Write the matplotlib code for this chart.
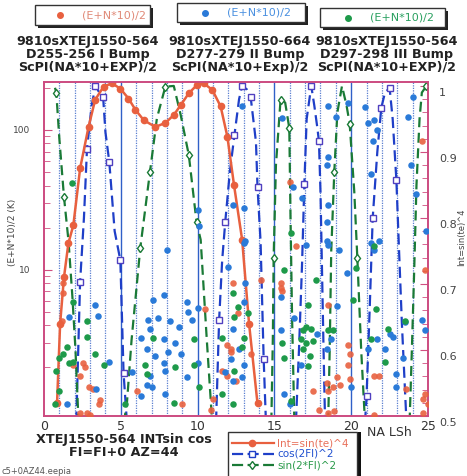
import numpy as np
import matplotlib.pyplot as plt
from matplotlib.patches import Rectangle
from matplotlib.lines import Line2D
from matplotlib.transforms import ScaledTranslation

W, H = 467, 476
nan = np.nan

# Int=sin(te)^4 curve (right axis)
int_x = [0.85, 1.05, 1.3, 1.59, 1.91, 2.35, 2.9, 3.33, 3.88, 4.42, 4.97, 5.5, 5.95, 6.5,
         7.25, 7.9, 8.45, 8.9, 9.43, 9.98, 10.4, 10.96, 11.5, 11.94, 12.37, 12.9, 13.35, 13.9]
int_y = [0.52, 0.64, 0.71, 0.762, 0.789, 0.875, 0.938, 0.979, 0.999, 1.004, 0.996, 0.981, 0.964, 0.948,
         0.938, 0.944, 0.956, 0.971, 0.989, 1.002, 1.004, 0.994, 0.969, 0.923, 0.85, 0.767, 0.64, 0.519]

# cos(2FI)^2 curve (right axis), gaps where it drops below 0.5
cos_x = [2.1, 2.35, 2.6, 2.8, 3.1, 3.35, 3.6, 3.85, 4.0, 4.25, 4.6, 4.97, 5.18, 5.4, nan,
         11.2, 11.4, 11.6, 11.8, 12.1, 12.4, 12.7, 12.9, 13.2, 13.45, 13.8, 13.9, 14.1, 14.3, 14.45, nan,
         16.4, 16.6, 16.8, 16.95, 17.1, 17.4, 17.6, 17.8, 17.9, 18.0, 18.1, 18.2, 18.3, nan,
         20.9, 21.0, 21.2, 21.4, 21.7, 21.96, 22.2, 22.5, 22.7, 22.94, 23.1, 23.3, 23.6]
cos_y = [0.49, 0.703, 0.8, 0.905, 0.97, 1.0, 0.99, 0.983, 0.93, 0.885, 0.78, 0.736, 0.565, 0.49, nan,
         0.49, 0.645, 0.736, 0.794, 0.87, 0.926, 0.98, 1.0, 0.995, 0.984, 0.915, 0.847, 0.764, 0.587, 0.49, nan,
         0.49, 0.6, 0.73, 0.851, 0.95, 1.0, 0.97, 0.936, 0.916, 0.84, 0.72, 0.6, 0.49, nan,
         0.49, 0.53, 0.66, 0.8, 0.9, 0.967, 0.99, 0.997, 0.95, 0.858, 0.76, 0.64, 0.49]
cos_sq_x = [2.35, 2.8, 3.35, 3.85, 4.25, 4.97, 5.18, 11.4, 11.8, 12.4, 12.9, 13.45, 13.9, 14.3,
            16.95, 17.4, 17.9, 21.0, 21.4, 21.96, 22.5, 22.94]
cos_sq_y = [0.703, 0.905, 1.0, 0.983, 0.885, 0.736, 0.565, 0.645, 0.794, 0.926, 1.0, 0.984, 0.847, 0.587,
            0.851, 1.0, 0.916, 0.53, 0.8, 0.967, 0.997, 0.858]

# sin(2*FI)^2 curve (right axis)
sin_x = [0.45, 0.8, 1.0, 1.3, 1.6, 1.85, 2.05, 2.25, nan,
         5.2, 5.4, 5.7, 6.27, 6.9, 7.35, 7.9, 8.45, 8.9, 9.43, 9.93, 10.2, 10.6, 10.95, nan,
         14.8, 14.9, 14.95, 15.1, 15.4, 15.7, 15.97, 16.05, 16.15, 16.3, nan,
         18.5, 18.6, 18.7, 18.9, 19.1, 19.4, 19.7, 19.9, 20.2, 20.4, 20.65, 20.9, nan,
         23.8, 23.95, 24.1, 24.25, 24.45, 24.6, 24.9]
sin_y = [1.02, 0.99, 0.92, 0.832, 0.764, 0.68, 0.6, 0.49, nan,
         0.49, 0.52, 0.615, 0.755, 0.87, 0.951, 0.999, 1.0, 0.956, 0.895, 0.794, 0.767, 0.615, 0.49, nan,
         0.49, 0.62, 0.739, 0.88, 0.979, 0.975, 0.936, 0.8, 0.65, 0.49, nan,
         0.49, 0.6, 0.75, 0.87, 0.96, 1.0, 0.97, 0.943, 0.84, 0.739, 0.6, 0.49, nan,
         0.49, 0.6, 0.72, 0.85, 0.95, 0.99, 1.0]
sin_dm_x = [0.8, 1.3, 6.27, 6.9, 7.9, 9.43, 9.93, 14.95, 15.4, 15.97, 18.9, 19.9, 20.4, 24.9]
sin_dm_y = [0.99, 0.832, 0.755, 0.87, 0.999, 0.895, 0.794, 0.739, 0.979, 0.936, 0.87, 0.943, 0.739, 1.0]

# (E+N*10)/2 scatter, three bumps (left log axis)
red_x = [1.25, 1.25, 1.15, 1.9, 2.55, 2.7, 2.35, 2.9, 3.2, 3.65, 3.55, 2.8, 2.35, 3.0, 6.05, 10.5, 11.9,
         12.15, 11.6, 11.9, 12.3, 9.0, 10.85, 11.0, 12.5, 16.4, 15.4, 15.4, 15.5, 14.1, 12.6, 12.2, 13.45,
         18.5, 19.8, 19.9, 19.8, 19.9, 19.1, 19.3, 18.8, 18.4, 18.5, 17.5, 17.9, 18.5, 18.9, 21.5, 21.8,
         21.5, 24.8, 25.0, 24.7, 16.0, 24.6, 24.8, 24.7, 23.6]
red_y = [8.0, 6.8, 4.3, 2.1, 2.15, 2.0, 1.75, 1.45, 1.4, 1.18, 1.1, 0.95, 0.95, 0.92, 1.35, 5.2, 2.9,
         2.7, 1.9, 1.75, 8.0, 1.1, 1.0, 1.2, 1.6, 14.7, 8.0, 7.4, 7.0, 8.5, 4.9, 2.6, 2.5,
         5.6, 2.9, 2.5, 2.1, 1.65, 1.7, 1.5, 1.45, 1.55, 1.35, 1.35, 1.0, 0.95, 0.98, 1.75, 1.75,
         0.92, 1.3, 1.1, 0.95, 42.7, 83, 10, 1.2, 1.4]

blue_x = [8.0, 1.6, 3.3, 3.5, 1.5, 4.2, 7.1, 7.8, 6.8, 7.4, 9.3, 9.4, 10.0, 9.65, 8.8, 8.2, 6.3, 6.9,
          6.7, 7.25, 7.8, 8.1, 8.55, 7.8, 7.9, 8.9, 5.7, 6.9, 6.7, 6.3, 7.0, 7.9, 9.3, 10.0, 12.0, 12.2,
          11.8, 12.3, 3.4, 13.0, 13.1, 13.0, 12.3, 12.7, 13.0, 12.9, 15.4, 15.4, 16.3, 15.6, 16.0, 16.7,
          17.05, 19.2, 19.1, 19.7, 17.8, 18.7, 18.4, 18.5, 20.0, 21.5, 21.3, 22.2, 22.5, 22.7, 22.9,
          23.4, 23.5, 24.8, 21.7, 21.1, 12.9, 18.5, 19.0, 19.8, 20.9, 21.1, 21.5, 21.7, 21.4, 21.3,
          24.0, 23.7, 23.9, 24.2, 24.9, 18.5, 18.4, 18.5, 18.4, 18.4, 16.8, 15.5, 13.0, 12.3, 13.1,
          21.8, 10.0, 10.1, 16.2, 24.6, 22.9]
blue_y = [13.9, 4.6, 5.6, 4.7, 1.1, 2.2, 6.1, 6.6, 4.4, 4.5, 5.9, 5.0, 5.3, 4.4, 3.9, 4.3, 3.25, 3.8,
          2.7, 2.4, 3.2, 2.6, 3.0, 2.15, 1.9, 2.5, 1.85, 1.75, 1.5, 1.25, 1.45, 1.3, 1.7, 2.15, 10.5, 2.3,
          1.85, 1.6, 1.4, 15.5, 8.0, 5.9, 3.8, 2.7, 2.1, 1.7, 6.4, 3.7, 4.5, 1.3, 1.1, 2.1,
          15.1, 13.9, 5.5, 9.5, 3.5, 3.2, 2.7, 15.1, 1.45, 13.9, 15.5, 2.7, 3.5, 3.3, 1.45,
          2.35, 4.2, 3.7, 3.2, 2.7, 147, 147, 124, 155, 145, 112, 118, 100, 83, 48,
          172, 124, 56, 35, 19, 64, 56, 29, 22, 16, 32.5, 121, 27.5, 29, 16,
          16, 26.8, 20.4, 39, 4.4, 1.8]

green_x = [1.9, 2.8, 2.8, 3.9, 1.5, 0.95, 1.25, 1.6, 1.9, 3.3, 0.8, 0.95, 0.7, 6.6, 6.7, 5.3, 8.45,
           7.1, 8.55, 9.75, 9.75, 10.1, 12.3, 12.4, 11.6, 11.6, 12.3, 12.6, 13.25, 13.0, 12.9, 12.4,
           15.6, 16.1, 15.5, 15.6, 17.2, 17.05, 16.85, 17.4, 16.7, 17.05, 17.5, 16.85, 17.3, 17.2, 17.7,
           18.5, 18.8, 20.1, 20.3, 21.5, 21.6, 21.3, 22.2, 22.4, 23.5, 16.1, 1.85]
green_y = [5.9, 4.3, 3.3, 2.1, 2.8, 2.35, 2.5, 2.15, 2.2, 2.5, 1.9, 1.35, 1.1, 2.1, 1.8, 1.1, 1.12,
           3.25, 2.0, 3.2, 2.1, 1.45, 6.8, 4.6, 3.25, 1.3, 1.1, 5.4, 4.9, 3.25, 2.8, 1.9,
           10, 1.15, 3.0, 2.35, 5.6, 3.9, 3.7, 3.8, 3.2, 3.0, 3.1, 2.7, 2.4, 2.05, 8.5,
           3.7, 3.7, 6.1, 10.3, 14.7, 5.2, 3.2, 2.2, 3.8, 4.3, 18.3, 42]

titles = ["9810sXTEJ1550-564\nD255-256 I Bump\nScPI(NA*10+EXP)/2",
          "9810sXTEJ1550-664\nD277-279 II Bump\nScPI(NA*10+Exp)/2",
          "9810sXTEJ1550-564\nD297-298 III Bump\nScPI(NA*10+EXP)/2"]

RED, BLUE, GREEN = '#e8603f', '#2a7ad8', '#1e9a4a'
DBLUE, DGREEN = '#1f3fc8', '#1a7a36'


def fx(px):
    return px / W


def fy(py):
    return 1 - py / H


fig = plt.figure(figsize=(W / 100, H / 100), dpi=100)
ax = fig.add_axes([fx(44), fy(416), 384 / W, 334 / H])
ax2 = ax.twinx()
ax.set_zorder(ax2.get_zorder() + 1)
ax.patch.set_visible(False)
ax2.patch.set_visible(True)
ax2.patch.set_facecolor('white')

# vertical grid
for v in range(1, 25):
    if v % 5 == 0:
        ax2.axvline(v, color='#3060c8', lw=1.0, zorder=0)
    else:
        ax2.axvline(v, color='#5a7fd0', lw=0.9, ls=(0, (1, 1)), zorder=0)

ax2.plot(cos_x, cos_y, color=DBLUE, lw=1.6, ls=(0, (5, 2.5)), zorder=2)
ax2.plot(cos_sq_x, cos_sq_y, ls='none', marker='s', ms=5, mfc='white', mec='#5040c0', mew=1.0, zorder=3)
ax2.plot(sin_x, sin_y, color=DGREEN, lw=1.6, ls=(0, (4.5, 2.5)), zorder=2)
ax2.plot(sin_dm_x, sin_dm_y, ls='none', marker='d', ms=4.5, mfc='white', mec=DGREEN, mew=1.0, zorder=3)
ax2.plot(int_x, int_y, color=RED, lw=1.8, marker='o', ms=4.5, mec=RED, zorder=4)

ax.scatter(red_x, red_y, s=22, color=RED, alpha=0.9, lw=0, zorder=3)
ax.scatter(blue_x, blue_y, s=22, color=BLUE, lw=0, zorder=3)
ax.scatter(green_x, green_y, s=22, color=GREEN, lw=0, zorder=3)

ax.set_xlim(0, 25)
ax.set_yscale('log')
ax.set_ylim(0.9, 220)
ax.set_yticks([10, 100])
ax.set_yticklabels(['10', '100'])
ax.set_xticks([0, 5, 10, 15, 20, 25])
ax2.set_ylim(0.5, 1.006)
ax2.set_yticks([0.5, 0.6, 0.7, 0.8, 0.9, 1.0])
ax2.set_yticklabels(['0.5', '0.6', '0.7', '0.8', '0.9', '1'])
ax2.set_yticks(np.arange(0.5, 1.0, 0.02), minor=True)

ax.tick_params(axis='x', direction='in', length=0, labelsize=9, pad=3, labelcolor='#333333')
ax.tick_params(axis='y', which='both', direction='in', color='#d05080', labelsize=6.5, pad=10,
               labelcolor='#444444')
ax.tick_params(axis='y', which='major', length=6)
ax.tick_params(axis='y', which='minor', length=4, labelleft=False)
ax2.tick_params(axis='y', which='both', direction='in', color='#d05080', labelsize=8, pad=8,
                labelcolor='#444444')
ax2.tick_params(axis='y', which='major', length=6)
ax2.tick_params(axis='y', which='minor', length=4)
shift = ScaledTranslation(0, -0.06, fig.dpi_scale_trans)
for lbl in ax2.get_yticklabels():
    lbl.set_transform(lbl.get_transform() + shift)
for a in (ax, ax2):
    for sp in a.spines.values():
        sp.set_color('#cc4a80')
        sp.set_linewidth(1.2)

ax.set_ylabel('(E+N*10)/2 (K)', fontsize=6.5, color='#444444', labelpad=2)
ax.yaxis.set_label_coords(-0.07, 0.55)
fig.text(fx(466.5), fy(237), 'Int=sin(te)^4', rotation=90, fontsize=6, color='#444444',
         ha='right', va='center')
fig.text(fx(389), fy(432), 'NA LSh', fontsize=9, color='#333333', ha='center', va='center')

# titles over the three bumps
for cx, t in zip([88, 240, 387], titles):
    for i, line in enumerate(t.split('\n')):
        fig.text(fx(cx), fy(42 + 12.5 * i), line, fontsize=9.2, fontweight='bold',
                 color='#222222', ha='center', va='center')

# top legend boxes
for (x0, y0, x1, y1, dotx, c, tc) in [(35, 5, 150, 25, 60, RED, '#e08a78'),
                                      (177, 3, 305, 22, 205, BLUE, '#4a90e0'),
                                      (320, 8, 445, 27, 348, GREEN, '#2aa060')]:
    fig.add_artist(Rectangle((fx(x0 + 3), fy(y1 + 3)), (x1 - x0) / W, (y1 - y0) / H,
                             transform=fig.transFigure, facecolor='#222222', edgecolor='none'))
    fig.add_artist(Rectangle((fx(x0), fy(y1)), (x1 - x0) / W, (y1 - y0) / H,
                             transform=fig.transFigure, facecolor='white', edgecolor='#333333', lw=1))
    fig.add_artist(Line2D([fx(dotx)], [fy((y0 + y1) / 2)], marker='o', ms=4, color=c,
                          transform=fig.transFigure))
    fig.text(fx(dotx + 22), fy((y0 + y1) / 2), '(E+N*10)/2', fontsize=8, color=tc, va='center')

# bottom captions
fig.text(fx(124), fy(440), 'XTEJ1550-564 INTsin cos', fontsize=9.2, fontweight='bold',
         color='#222222', ha='center', va='center')
fig.text(fx(124), fy(453), 'FI=FI+0 AZ=44', fontsize=9.2, fontweight='bold',
         color='#222222', ha='center', va='center')
fig.text(fx(1), fy(471), 'c5+0AZ44.eepia', fontsize=6, color='#555555', va='center')

# bottom legend
fig.add_artist(Rectangle((fx(232), fy(480)), 129 / W, 48 / H, transform=fig.transFigure,
                         facecolor='#111111', edgecolor='none'))
fig.add_artist(Rectangle((fx(228), fy(478)), 129 / W, 46 / H, transform=fig.transFigure,
                         facecolor='white', edgecolor='#333333', lw=1))
entries = [('Int=sin(te)^4', RED, '-', 'o', RED, '#e8705a'),
           ('cos(2FI)^2', DBLUE, (0, (5, 2)), 's', 'white', '#2050d0'),
           ('sin(2*FI)^2', DGREEN, (0, (5, 2)), 'd', 'white', '#2a9a4a')]
for i, (lab, c, ls, m, mf, tc) in enumerate(entries):
    yy = fy(443 + 11 * i)
    fig.add_artist(Line2D([fx(232), fx(274)], [yy, yy], color=c, ls=ls, lw=1.6,
                          transform=fig.transFigure))
    fig.add_artist(Line2D([fx(252)], [yy], marker=m, ms=4.5, color=c, mfc=mf, mec=c,
                          transform=fig.transFigure))
    fig.text(fx(277), yy, lab, fontsize=7.5, color=tc, va='center')

fig.savefig('out.png', dpi=100)
